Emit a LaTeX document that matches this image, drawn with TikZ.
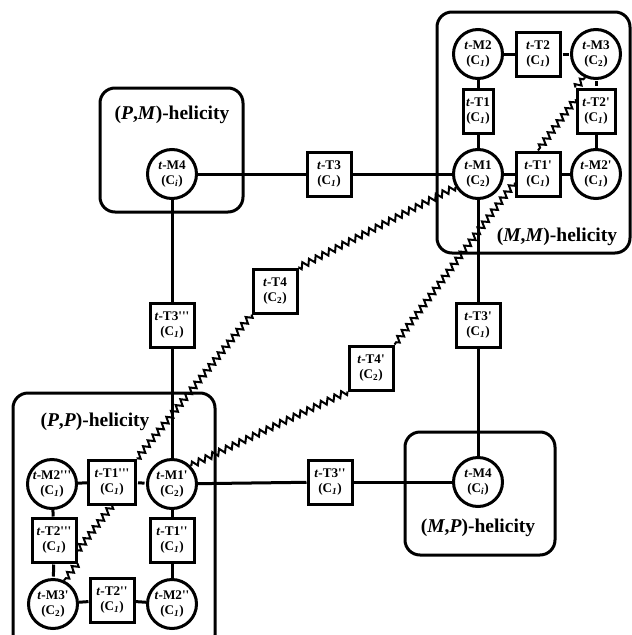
\documentclass[tikz,border=0pt]{standalone}
\usepackage{fontspec}
\setmainfont{Liberation Serif}
\usetikzlibrary{decorations.pathmorphing}
\newcommand{\prm}{\textquotesingle}
\newcommand{\cone}{(C\textsubscript{\textit{1}})}
\newcommand{\ctwo}{(C\textsubscript{2})}
\newcommand{\cinv}{(C\textsubscript{\textit{i}})}
\tikzset{
  conf/.style={circle, draw, line width=3pt, minimum size=49pt, inner sep=0pt,
    align=center, font=\fontsize{13.2}{15}\selectfont\bfseries},
  ts/.style={rectangle, draw, line width=3pt, minimum width=44pt, minimum height=44pt,
    inner sep=1pt, align=center, font=\fontsize{13.2}{15}\selectfont\bfseries},
  helibox/.style={line width=3pt, rounded corners=15pt},
  helititle/.style={font=\fontsize{19.5}{22}\selectfont\bfseries},
  link/.style={line width=3pt},
  stub/.style={line width=3pt, shorten <=1pt, shorten >=1.5pt},
  wave/.style={line width=2pt, decorate,
    decoration={zigzag, segment length=7.5pt, amplitude=3pt}}
}
\begin{document}
\begin{tikzpicture}[x=1pt, y=-1pt]
  \useasboundingbox (0,0) rectangle (632,635);
  % helicity regions
  \draw[helibox](100,88) rectangle (243,212);
  \draw[helibox](437,12) rectangle (630,253);
  \draw[helibox](13,393) rectangle (215,650);
  \draw[helibox](405,432) rectangle (555,555);
  \node[helititle] (tPM) at (172,115) {(\textit{P},\textit{M})-helicity};
  \node[helititle] (tMM) at (557,237) {(\textit{M},\textit{M})-helicity};
  \node[helititle] (tPP) at (95,422) {(\textit{P},\textit{P})-helicity};
  \node[helititle] (tMP) at (478,528) {(\textit{M},\textit{P})-helicity};
  % (M,M)
  \node[conf] (M2) at (478,54) {\textit{t}-M2\\\cone};
  \node[ts] (T2) at (538,54) {\textit{t}-T2\\\cone};
  \node[conf] (M3) at (596,54) {\textit{t}-M3\\\ctwo};
  \node[ts, minimum width=30pt] (T1) at (478,111) {\textit{t}-T1\\\cone};
  \node[ts, minimum width=38pt] (T2p) at (596,111) {\textit{t}-T2\prm\\\cone};
  \node[conf] (M1) at (478,174) {\textit{t}-M1\\\ctwo};
  \node[ts] (T1p) at (538,174) {\textit{t}-T1\prm\\\cone};
  \node[conf] (M2p) at (596,174) {\textit{t}-M2\prm\\\cone};
  % (P,M) and (M,P)
  \node[conf] (M4a) at (172,174) {\textit{t}-M4\\\cinv};
  \node[conf] (M4b) at (478,482) {\textit{t}-M4\\\cinv};
  % between the regions
  \node[ts] (T3) at (329,174) {\textit{t}-T3\\\cone};
  \node[ts] (T3ppp) at (172,325) {\textit{t}-T3\prm\prm\prm\\\cone};
  \node[ts] (T3p) at (478,325) {\textit{t}-T3\prm\\\cone};
  \node[ts] (T3pp) at (330,482) {\textit{t}-T3\prm\prm\\\cone};
  \node[ts] (T4) at (275,291) {\textit{t}-T4\\\ctwo};
  \node[ts] (T4p) at (371,368) {\textit{t}-T4\prm\\\ctwo};
  % (P,P)
  \node[conf] (M2ppp) at (52,484) {\textit{t}-M2\prm\prm\prm\\\cone};
  \node[ts, minimum width=47pt] (T1ppp) at (112,482) {\textit{t}-T1\prm\prm\prm\\\cone};
  \node[conf] (M1p) at (172,484) {\textit{t}-M1\prm\\\ctwo};
  \node[ts] (T2ppp) at (54,540) {\textit{t}-T2\prm\prm\prm\\\cone};
  \node[ts] (T1pp) at (172,540) {\textit{t}-T1\prm\prm\\\cone};
  \node[conf] (M3p) at (53,604) {\textit{t}-M3\prm\\\ctwo};
  \node[ts] (T2pp) at (112,600) {\textit{t}-T2\prm\prm\\\cone};
  \node[conf] (M2pp) at (172,604) {\textit{t}-M2\prm\prm\\\cone};
  % straight connections
  \draw[link](M2)--(T2);
  \draw[stub](T2)--(M3);
  \draw[link](M2)--(T1);
  \draw[link](T1)--(M1);
  \draw[link](M1)--(T1p);
  \draw[link](T1p)--(M2p);
  \draw[stub](M3)--(T2p);
  \draw[link](T2p)--(M2p);
  \draw[link](M4a)--(T3);
  \draw[link](T3)--(M1);
  \draw[link](M4a)--(T3ppp);
  \draw[link](T3ppp)--(M1p);
  \draw[link](M1)--(T3p);
  \draw[link](T3p)--(M4b);
  \draw[link](M1p)--(T3pp);
  \draw[link](T3pp)--(M4b);
  \draw[link](M2ppp)--(T1ppp);
  \draw[stub](T1ppp)--(M1p);
  \draw[link](M2ppp)--(T2ppp);
  \draw[stub](T2ppp)--(M3p);
  \draw[link](M3p)--(T2pp);
  \draw[link](T2pp)--(M2pp);
  \draw[link](M1p)--(T1pp);
  \draw[link](T1pp)--(M2pp);
  % zigzag connections
  \draw[wave](M1.210)--(T4.north east);
  \draw[wave](T4.south west)--(T1ppp.north east);
  \draw[wave](T1p.200)--(T4p.north east);
  \draw[wave](T4p.south west)--(M1p.45);
  \draw[wave](T2p.150)--(T1p.north);
  \draw[wave](T2p.north west)--(M3.245);
  \draw[wave](T1ppp.south)--(T2ppp.-25);
  \draw[wave](T2ppp.south east)--(M3p.65);
\end{tikzpicture}
\end{document}
